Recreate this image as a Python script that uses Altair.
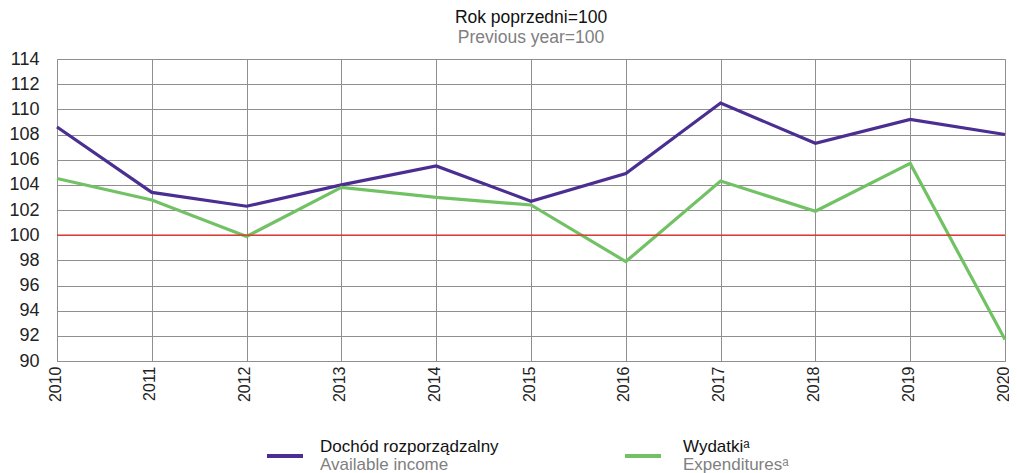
import altair as alt
import pandas as pd

years = [2010, 2011, 2012, 2013, 2014, 2015, 2016, 2017, 2018, 2019, 2020]
income = [108.6, 103.4, 102.3, 104.0, 105.5, 102.7, 104.9, 110.5, 107.3, 109.2, 108.0]
expend = [104.5, 102.8, 99.9, 103.8, 103.0, 102.4, 97.9, 104.3, 101.9, 105.7, 91.7]
series_names = ["Dochód rozporządzalny", "Wydatki"]
series_en = ["Available income", "Expendituresᵃ"]
series_pl = ["Dochód rozporządzalny", "Wydatkiᵃ"]
colors = ["#4b2e91", "#72c265"]
y_ticks = [90, 92, 94, 96, 98, 100, 102, 104, 106, 108, 110, 112, 114]

df = pd.DataFrame({
    "year": years * 2,
    "value": income + expend,
    "series": [series_names[0]] * len(years) + [series_names[1]] * len(years),
})

FONT = "Liberation Sans"
W, H = 948, 302

x = alt.X("year:Q", scale=alt.Scale(domain=[2010, 2020], nice=False),
          axis=alt.Axis(values=years, tickCount=len(years), format="d", labelAngle=-90,
                        labelAlign="right", labelBaseline="middle", labelPadding=5,
                        labelOffset=-2,
                        tickSize=0, title=None, labelFontSize=16, labelColor="#222",
                        labelOverlap=False, labelFlush=False,
                        grid=True, gridColor="#8f8f8f", domainColor="#8f8f8f"))
y = alt.Y("value:Q", scale=alt.Scale(domain=[90, 114], nice=False),
          axis=alt.Axis(values=y_ticks, tickCount=len(y_ticks), tickSize=0, labelPadding=18,
                        title=None, labelFontSize=18, labelColor="#222", grid=True,
                        labelOverlap=False, labelFlush=False,
                        gridColor="#8f8f8f", domainColor="#8f8f8f"))

lines = alt.Chart(df).mark_line(strokeWidth=3.2).encode(
    x=x, y=y,
    color=alt.Color("series:N", scale=alt.Scale(domain=series_names, range=colors), legend=None),
)

ref = alt.Chart(pd.DataFrame({"v": [100]})).mark_rule(color="#e8231d", strokeWidth=1.2).encode(
    y=alt.Y("v:Q")
)

# custom legend
layers = []
leg_x = [210, 568]
leg_text_x = [263, 626]
for i in range(2):
    d = pd.DataFrame({"a": [0]})
    layers.append(alt.Chart(d).mark_rule(color=colors[i], strokeWidth=4).encode(
        x=alt.value(leg_x[i]), x2=alt.value(leg_x[i] + 36), y=alt.value(397)))
    layers.append(alt.Chart(d).mark_text(text=series_pl[i], align="left", baseline="middle",
                                          fontSize=17, font=FONT, color="#111").encode(
        x=alt.value(leg_text_x[i]), y=alt.value(388)))
    layers.append(alt.Chart(d).mark_text(text=series_en[i], align="left", baseline="middle",
                                          fontSize=17, font=FONT, color="#808080").encode(
        x=alt.value(leg_text_x[i]), y=alt.value(406)))

chart = alt.layer(lines, ref, *layers).properties(
    width=W, height=H,
    title=alt.TitleParams(text="Rok poprzedni=100", subtitle="Previous year=100",
                          fontSize=17.5, subtitleFontSize=17.5, fontWeight="normal",
                          color="#111", subtitleColor="#808080", font=FONT,
                          subtitleFont=FONT, anchor="middle", offset=4,
                          subtitlePadding=2),
    autosize=alt.AutoSizeParams(type="none"),
    padding={"left": 49, "top": 51, "right": 4, "bottom": 112},
).configure_view(stroke="#8f8f8f", strokeWidth=1).configure_axis(
    labelFont=FONT, gridWidth=1
).configure(background="white")

chart.save("out.html", embed_options={"renderer": "svg", "actions": False})
